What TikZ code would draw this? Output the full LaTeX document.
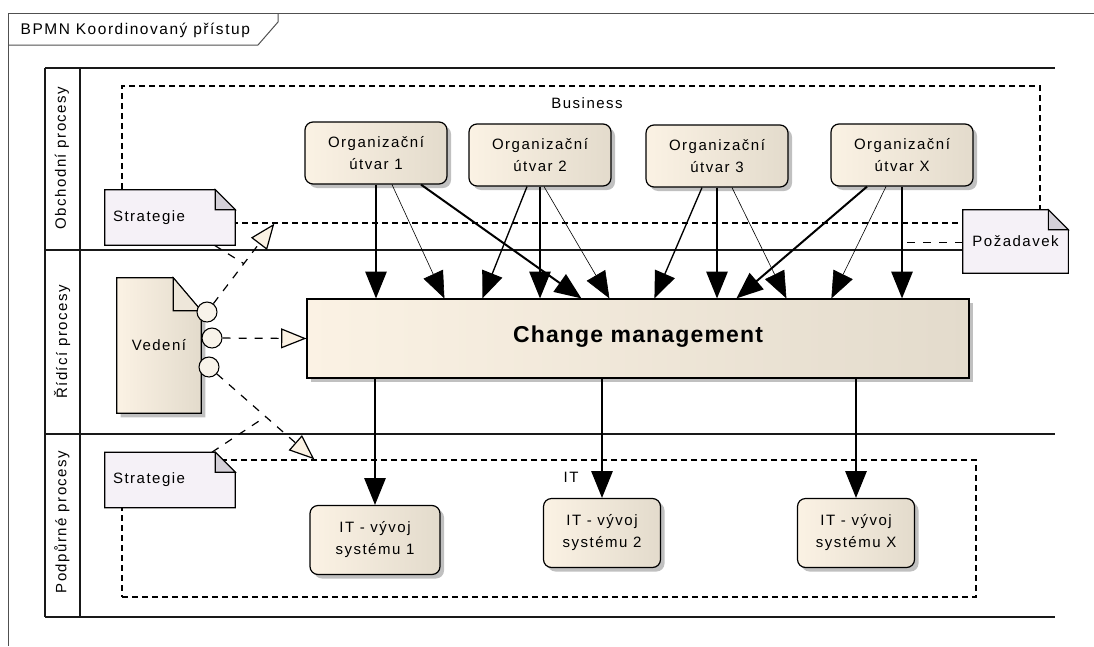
\documentclass[tikz,border=0pt]{standalone}
\usepackage{fontspec}
\setmainfont{Liberation Sans}[LetterSpace=10]
\usetikzlibrary{arrows.meta,calc,shadows}

\definecolor{beigeL}{RGB}{251,242,228}
\definecolor{beigeR}{RGB}{227,219,204}
\definecolor{foldBeige}{RGB}{238,231,218}
\definecolor{noteFill}{RGB}{245,241,247}
\definecolor{foldFill}{RGB}{212,208,216}
\definecolor{shadowGray}{RGB}{192,192,192}
\definecolor{laneLine}{RGB}{25,25,25}
\definecolor{frameLine}{RGB}{80,80,80}
\definecolor{portFill}{RGB}{248,243,234}

\pgfdeclarelayer{back}
\pgfdeclarelayer{mid}
\pgfsetlayers{back,mid,main}

% dog-eared note outline behind a named node (#1 = fold size in px)
\newcommand\dognote[2][20]{%
  \begin{pgfonlayer}{mid}
    \draw[line width=0.8pt, fill=noteFill]
      (#2.north west) -- ($(#2.north east)+(-#1,0)$) -- ($(#2.north east)+(0,#1)$)
      -- (#2.south east) -- (#2.south west) -- cycle;
    \draw[line width=0.8pt, fill=foldFill]
      ($(#2.north east)+(-#1,0)$) -- ($(#2.north east)+(-#1,#1)$)
      -- ($(#2.north east)+(0,#1)$) -- cycle;
  \end{pgfonlayer}}

\begin{document}
\begin{tikzpicture}[x=0.75pt,y=-0.75pt,
  txt/.style={font=\fontsize{11.25}{16.5}\selectfont, align=center},
  unit/.style={txt, draw=black, line width=0.9pt, rounded corners=6pt,
    left color=beigeL, right color=beigeR, inner sep=0pt,
    drop shadow={shadow xshift=3pt, shadow yshift=-3pt, fill=shadowGray, opacity=1}},
  orgbox/.style={unit, minimum width=106.5pt, minimum height=46.5pt},
  cmbox/.style={draw=black, line width=0.9pt, left color=beigeL, right color=beigeR,
    minimum width=496.5pt, minimum height=59.25pt, inner sep=0pt,
    font=\fontsize{17.25}{20}\bfseries\addfontfeatures{LetterSpace=5},
    drop shadow={shadow xshift=3pt, shadow yshift=-3pt, fill=shadowGray, opacity=1}},
  notebox/.style={txt, align=left, minimum height=41.25pt, text width=85.5pt, inner xsep=6pt, inner ysep=0pt},
  group/.style={draw=black, line width=1pt, dash pattern=on 4.5pt off 3pt, inner sep=0pt},
  lanelbl/.style={txt, rotate=90},
  lane/.style={draw=laneLine, line width=1.4pt},
  port/.style={circle, draw=black, line width=0.8pt, fill=portFill, minimum size=15pt, inner sep=0pt},
  flow/.style={-{Triangle[length=20pt,width=16pt]}, line width=1pt},
  flowthin/.style={flow, line width=0.45pt},
  flowthick/.style={flow, line width=1.5pt},
  assoc/.style={dash pattern=on 6pt off 6pt, line width=0.9pt,
    -{Triangle[length=19pt,width=15pt,fill=beigeL]}},
  link/.style={dash pattern=on 6pt off 6pt, line width=0.9pt}
]
\useasboundingbox (0,0) rectangle (1094,646);

% diagram frame with its title tab
\draw[frameLine, line width=0.75pt] (1094,13) -- (8,13) -- (8,646);
\draw[frameLine, line width=0.75pt] (8,45) -- (258,45) -- (278,22) -- (278,13);
\node[txt, anchor=west, font=\fontsize{11.6}{14}\selectfont] (title) at (16,30) {BPMN Koordinovaný přístup};

% pool and lanes
\begin{pgfonlayer}{back}
  \draw[lane] (45,68) -- (1055,68);
  \draw[lane] (45,250) -- (1055,250);
  \draw[lane] (45,434) -- (1055,434);
  \draw[lane] (45,617) -- (1055,617);
  \draw[lane] (45,68) -- (45,617);
  \draw[lane] (80,68) -- (80,617);
  % dashed groups
  \node[group, minimum width=688.5pt, minimum height=102.75pt] (biz) at (581,154.5) {};
  \node[group, minimum width=640.5pt, minimum height=102.75pt] (it) at (549,528.5) {};
\end{pgfonlayer}

\node[lanelbl] (l1) at (62,158) {Obchodní procesy};
\node[lanelbl] (l2) at (62,342) {Řídící procesy};
\node[lanelbl] (l3) at (62,522) {Podpůrné procesy};

\node[txt] (bizlbl) at (587,103) {Business};
\node[txt] (itlbl) at (571,477) {IT};

% business units
\node[orgbox] (o1) at (376,153) {Organizační\\útvar 1};
\node[orgbox] (o2) at (540,155) {Organizační\\útvar 2};
\node[orgbox] (o3) at (717,156) {Organizační\\útvar 3};
\node[orgbox] (ox) at (902,155) {Organizační\\útvar X};

% change management
\node[cmbox] (cm) at (638,338.5) {\raisebox{7pt}{Change management}};

% IT development
\node[unit, minimum width=97.5pt, minimum height=51.75pt] (it1) at (375,540) {IT - vývoj\\systému 1};
\node[unit, minimum width=87.75pt, minimum height=51.75pt] (it2) at (602,533) {IT - vývoj\\systému 2};
\node[unit, minimum width=87.75pt, minimum height=51.75pt] (itx) at (856,533) {IT - vývoj\\systému X};

% notes
\node[notebox] (s1) at (170,217.5) {\raisebox{-4pt}{Strategie}};
\dognote{s1}
\node[notebox] (s2) at (170,480) {\raisebox{-3pt}{Strategie}};
\dognote{s2}
\node[txt, minimum width=78.75pt, minimum height=47.25pt, inner sep=0pt] (pz) at (1015.5,241.5) {\raisebox{-4pt}{Požadavek}};
\dognote{pz}

% management data object with its ports
\node[txt, minimum width=63pt, minimum height=101.25pt, inner sep=0pt] (ved) at (159,345.5) {\raisebox{-6pt}{Vedení}};
\begin{pgfonlayer}{mid}
  \fill[shadowGray] ($(ved.north west)+(4,4)$) -- ($(ved.north east)+(-24,4)$) -- ($(ved.north east)+(4,37)$)
    -- ($(ved.south east)+(4,4)$) -- ($(ved.south west)+(4,4)$) -- cycle;
  \draw[line width=0.8pt, left color=beigeL, right color=beigeR]
    (ved.north west) -- ($(ved.north east)+(-28,0)$) -- ($(ved.north east)+(0,33)$)
    -- (ved.south east) -- (ved.south west) -- cycle;
  \draw[line width=0.8pt, fill=foldBeige]
    ($(ved.north east)+(-28,0)$) -- ($(ved.north east)+(-28,33)$) -- ($(ved.north east)+(0,33)$) -- cycle;
\end{pgfonlayer}
\node[port] (p1) at (207,312) {};
\node[port] (p2) at (212,338) {};
\node[port] (p3) at (209,367) {};

% flows from business units into change management
\draw[flow]      (o1.south) -- (o1.south |- cm.north);
\draw[flowthin]  ($(o1.south)+(16,0)$) -- ($(cm.north west)+(138,0)$);
\draw[flowthick] ($(o1.south)+(45,0)$) -- ($(cm.north west)+(275,0)$);
\draw[flow]      ($(o2.south)+(-13,0)$) -- ($(cm.north west)+(176,0)$);
\draw[flow]      (o2.south) -- (o2.south |- cm.north);
\draw[flowthin]  ($(o2.south)+(4,0)$) -- ($(cm.north west)+(303,0)$);
\draw[flow]      ($(o3.south)+(-15,0)$) -- ($(cm.north west)+(348,0)$);
\draw[flow]      (o3.south) -- (o3.south |- cm.north);
\draw[flowthin]  ($(o3.south)+(15,0)$) -- ($(cm.north west)+(480,0)$);
\draw[flowthick] ($(ox.south)+(-35,0)$) -- ($(cm.north west)+(430,0)$);
\draw[flowthin]  ($(ox.south)+(-16,0)$) -- ($(cm.north west)+(525,0)$);
\draw[flow]      (ox.south) -- coordinate[pos=.5] (mx) (ox.south |- cm.north);

% flows from change management to IT
\draw[flow] (cm.south -| it1.north) -- (it1.north);
\draw[flow] (cm.south -| it2.north) -- (it2.north);
\draw[flow] (cm.south -| itx.north) -- (itx.north);

% associations from the management ports
\coordinate (bt) at ($(biz.south west)+(153,0)$);
\coordinate (itt) at ($(it.north west)+(193,0)$);
\draw[assoc] (p1) -- coordinate[pos=.5] (m1) (bt);
\draw[assoc] (p2) -- (cm.west);
\draw[assoc] (p3) -- coordinate[pos=.5] (m3) (itt);

% note links
\draw[link] (s1) -- (m1);
\draw[link] (s2) -- (m3);
\draw[link] (pz.west |- mx) -- (mx);
\end{tikzpicture}
\end{document}
